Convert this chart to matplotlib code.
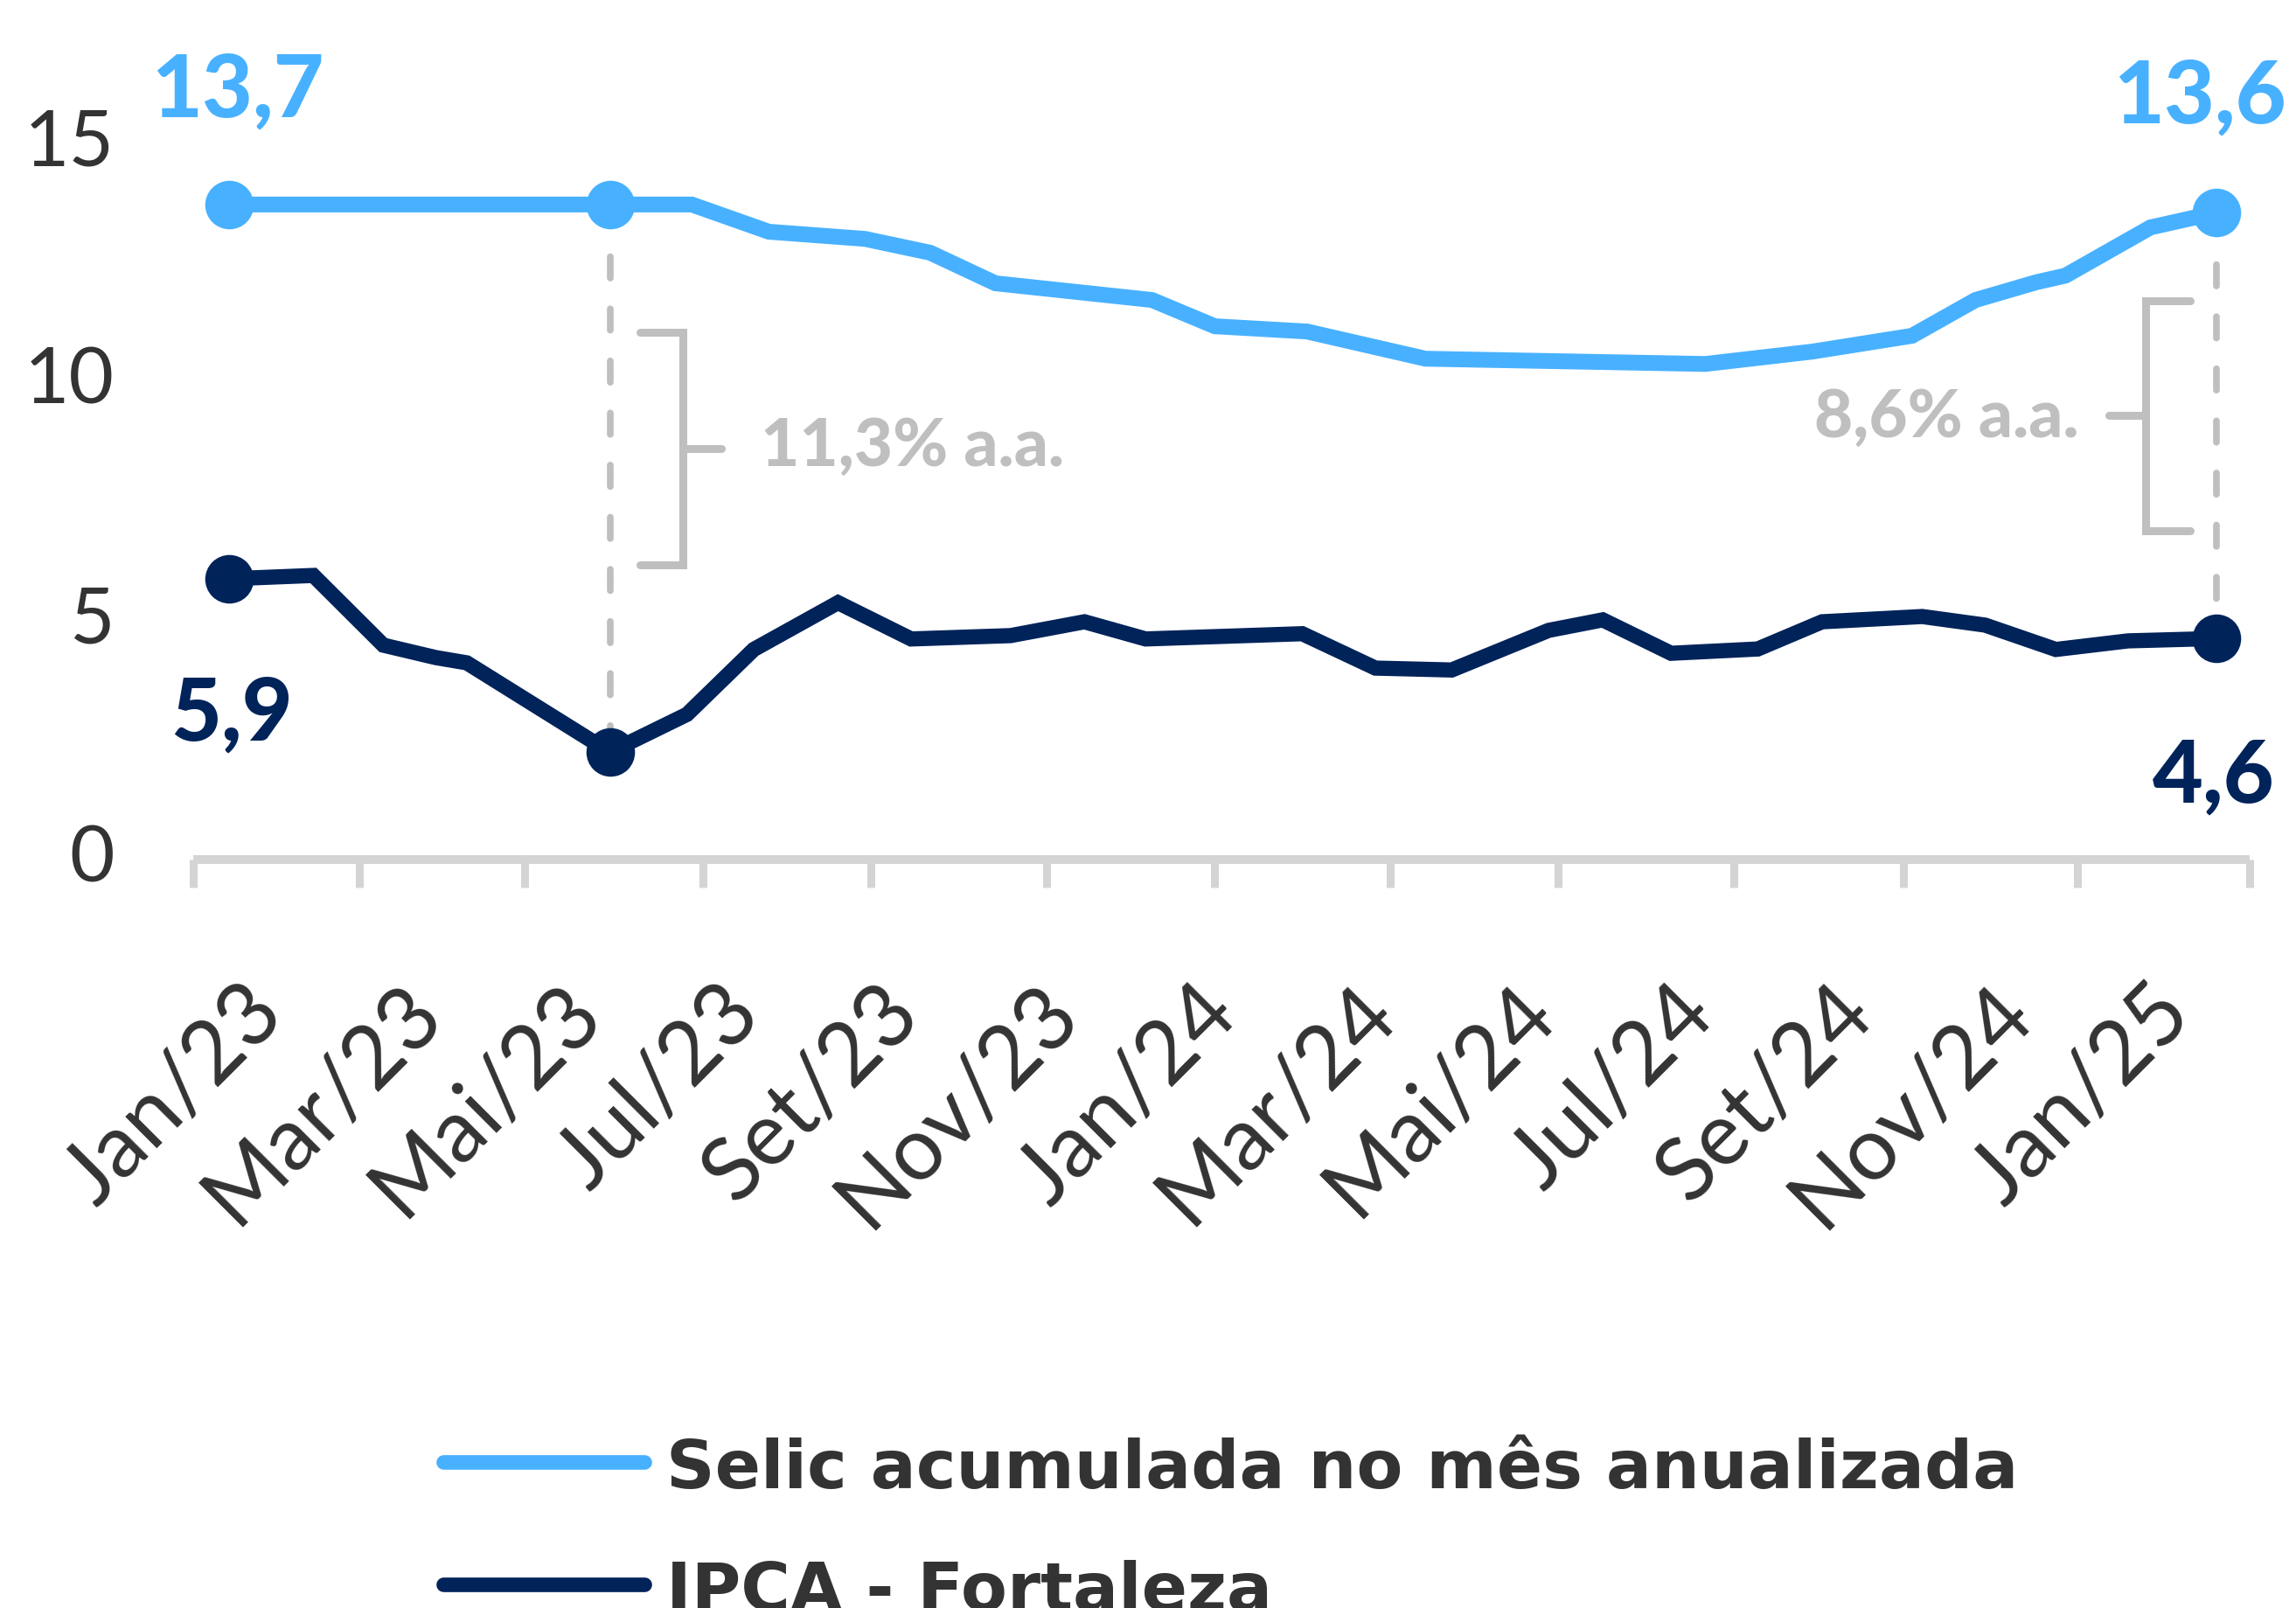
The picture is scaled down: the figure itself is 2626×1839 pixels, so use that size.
import numpy as np
import matplotlib
matplotlib.use('Agg')
import matplotlib.pyplot as plt
from matplotlib.lines import Line2D
from matplotlib.transforms import ScaledTranslation

plt.rcParams['font.family'] = ['Lato', 'DejaVu Sans']
WIDE = ['DejaVu Sans']

# x = months counted from Jan/23, y = % a.a.
selic_x = [0, 4.79, 5.82, 6.79, 8.00, 8.82, 9.64, 11.61, 12.40, 13.56, 15.05,
           18.57, 19.92, 21.17, 21.97, 22.73, 23.10, 24.17, 25.0]
selic_y = [13.72, 13.72, 13.72, 13.15, 13.00, 12.71, 12.07, 11.72, 11.17, 11.06,
           10.49, 10.38, 10.64, 10.97, 11.72, 12.09, 12.23, 13.24, 13.55]

ipca_x = [0, 1.06, 1.94, 2.60, 2.99, 4.79, 5.76, 6.60, 7.66, 8.58, 9.83, 10.76,
          11.53, 13.50, 14.42, 15.38, 16.60, 17.28, 18.14, 19.23, 20.04, 21.30,
          22.09, 22.98, 23.89, 25.0]
ipca_y = [5.88, 5.95, 4.49, 4.23, 4.12, 2.25, 3.04, 4.40, 5.38, 4.62, 4.69, 4.98,
          4.62, 4.73, 4.01, 3.97, 4.80, 5.02, 4.32, 4.41, 4.98, 5.09, 4.91, 4.40,
          4.58, 4.63]

month_labels = ['Jan/23', 'Mar/23', 'Mai/23', 'Jul/23', 'Set/23', 'Nov/23', 'Jan/24',
                'Mar/24', 'Mai/24', 'Jul/24', 'Set/24', 'Nov/24', 'Jan/25']
label_months = [0, 2, 4, 6, 8, 10, 12, 14, 16, 18, 20, 22, 24]
tick_marks = [-0.45, 1.64, 3.72, 5.96, 8.07, 10.28, 12.40, 14.61, 16.72, 18.93,
              21.06, 23.25, 25.42]
yticks = [0, 5, 10, 15]

# highlighted points: (index in selic, index in ipca, label for real rate)
gap_points = [(1, 5, '11,3% a.a.'), (-1, -1, '8,6% a.a.')]

SELIC = '#48B1FF'
IPCA = '#00235A'
GRAY = '#BFBFBF'
AXIS = '#D4D4D4'
TXT = '#333333'

W, H, DPI = 2626, 1839, 100
fig = plt.figure(figsize=(W / DPI, H / DPI), dpi=DPI)
fig.patch.set_facecolor('white')

# axes placed so that month 0 sits at px 262 and value 0 at px 983 (from top)
ppm = 90.92   # pixels per month
ppu = 54.6    # pixels per unit
ax = fig.add_axes([150 / W, 1 - 1000 / H, 2470 / W, 980 / H])
ax.set_xlim((150 - 262) / ppm, (2620 - 262) / ppm)
ax.set_ylim((983 - 1000) / ppu, (983 - 20) / ppu)
ax.patch.set_alpha(0)

for s in ['top', 'right', 'left']:
    ax.spines[s].set_visible(False)
ax.spines['bottom'].set_position(('data', 0))
ax.spines['bottom'].set_bounds(tick_marks[0], tick_marks[-1])
ax.spines['bottom'].set_color(AXIS)
ax.spines['bottom'].set_linewidth(7.2)
ax.spines['bottom'].set_capstyle('butt')

ax.set_xticks(label_months)
ax.set_xticklabels(month_labels, rotation=45, ha='right', va='top',
                   rotation_mode='anchor', fontsize=72, fontweight='normal', color=TXT)
ax.set_xticks(tick_marks, minor=True)
ax.tick_params(axis='x', which='major', length=0, pad=92)
ax.tick_params(axis='x', which='minor', length=23, width=6.5, color=AXIS, direction='out')
for lab in ax.get_xticklabels():
    lab.set_transform(lab.get_transform() + ScaledTranslation(0.14, 0, fig.dpi_scale_trans))

ax.set_yticks(yticks)
ax.set_yticklabels([str(v) for v in yticks], fontsize=64, fontweight='normal', color=TXT)
ax.tick_params(axis='y', length=0, pad=14)
for lab in ax.get_yticklabels():
    lab.set_transform(lab.get_transform() + ScaledTranslation(0, 0.08, fig.dpi_scale_trans))

# dashed connectors between the two series
for si, ii, txt in gap_points:
    ax.plot([selic_x[si], ipca_x[ii]], [selic_y[si], ipca_y[ii]], color=GRAY, lw=5.5,
            dashes=(3.2, 4.6), dash_capstyle='round', zorder=2)

# brackets
def bracket(xv, xarm, xmid, ytop, ybot):
    ax.plot([xarm, xv, xv, xarm], [ytop, ytop, ybot, ybot], color=GRAY, lw=6.5,
            solid_capstyle='round', solid_joinstyle='miter', zorder=2)
    ax.plot([xv, xmid], [(ytop + ybot) / 2] * 2, color=GRAY, lw=6.5,
            solid_capstyle='round', zorder=2)

bracket(5.71, 5.17, 6.19, 11.04, 6.17)
bracket(24.11, 24.67, 23.65, 11.70, 6.89)
ax.text(6.69, 8.24, gap_points[0][2], fontsize=55, fontweight='black',
        color=GRAY, ha='left', va='baseline')
ax.text(23.27, 8.85, gap_points[1][2], fontsize=55, fontweight='black',
        color=GRAY, ha='right', va='baseline')

# series
ax.plot(selic_x, selic_y, color=SELIC, lw=13, solid_joinstyle='miter',
        solid_capstyle='butt', zorder=3)
ax.plot(ipca_x, ipca_y, color=IPCA, lw=12.5, solid_joinstyle='miter',
        solid_capstyle='butt', zorder=3)
ax.plot([selic_x[i] for i in (0, 1, -1)], [selic_y[i] for i in (0, 1, -1)], 'o',
        color=SELIC, ms=40, mew=0, zorder=4)
ax.plot([ipca_x[i] for i in (0, 5, -1)], [ipca_y[i] for i in (0, 5, -1)], 'o',
        color=IPCA, ms=40, mew=0, zorder=4)

# value labels at the ends
def vlabel(x, y, txt, color, dx, dy, ha='center'):
    ax.annotate(txt, (x, y), xytext=(dx, dy), textcoords='offset pixels',
                ha=ha, va='baseline', fontsize=72, fontweight='black',
                color=color, zorder=5)

vlabel(selic_x[0], selic_y[0], f'{selic_y[0]:.1f}'.replace('.', ','), SELIC, 10, 100)
vlabel(selic_x[-1], selic_y[-1], '13,6', SELIC, 80, 103, ha='right')
vlabel(ipca_x[0], ipca_y[0], '5,9', IPCA, 3, -184)
vlabel(ipca_x[-1], ipca_y[-1], f'{ipca_y[-1]:.1f}'.replace('.', ','), IPCA, -3, -187)

# legend drawn by hand (bottom, partly cut by the figure edge)
for ypx, col, name in [(1672, SELIC, 'Selic acumulada no mês anualizada'),
                       (1812, IPCA, 'IPCA - Fortaleza')]:
    fig.add_artist(Line2D([507 / W, 737 / W], [1 - ypx / H] * 2, color=col, lw=12,
                          solid_capstyle='round', transform=fig.transFigure))
    fig.text(762 / W, 1 - (ypx + 30) / H, name, fontsize=55.5, fontweight='bold',
             family=WIDE, color=TXT, ha='left', va='baseline')

fig.savefig('out.png', dpi=DPI, facecolor='white')
